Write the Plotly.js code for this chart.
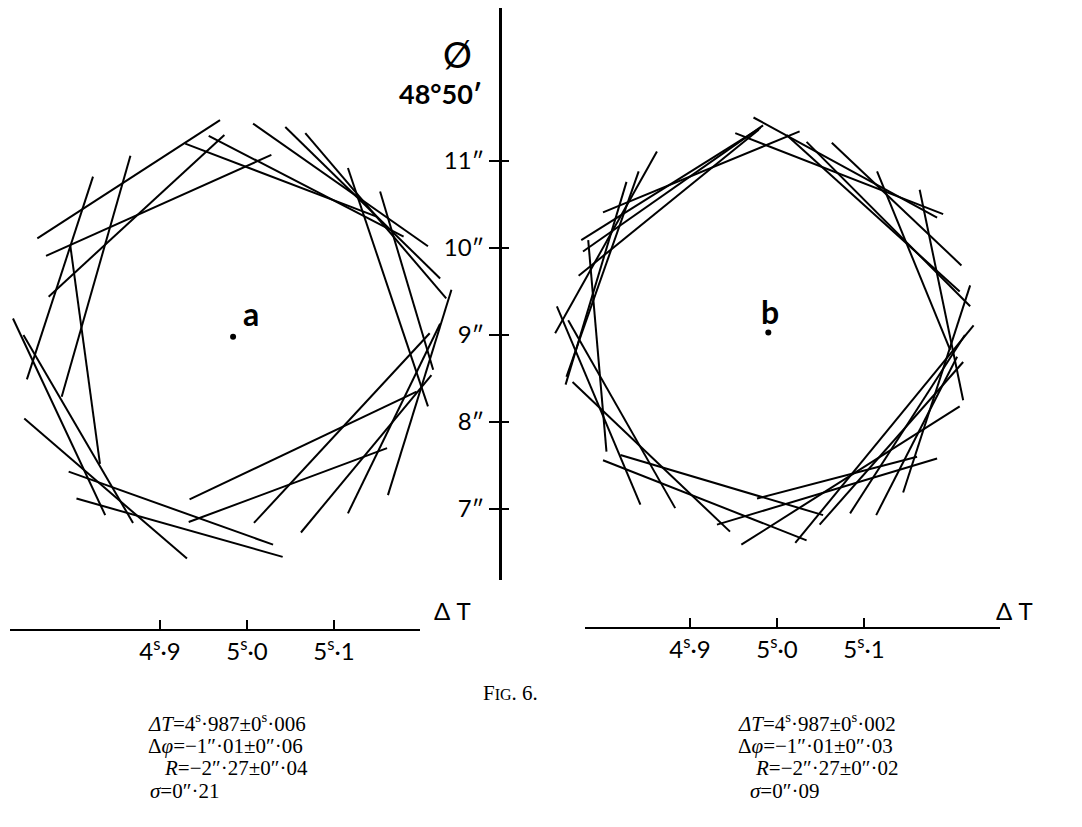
<!DOCTYPE html>
<html><head><meta charset="utf-8">
<script src="https://cdn.plot.ly/plotly-3.0.1.min.js"></script>
<style>body{margin:0;background:#fff}#c{width:1082px;height:827px}</style>
</head><body><div id="c"></div>
<script>
// Panel a: line segments (ΔT in seconds, φ in arcsec beyond 48°50′)
const aX0=[4.969,4.974,5.028,4.866,4.823,4.797,4.731,4.743,4.744,4.795,4.804,4.934,4.933,5.008,5.062,5.116,5.162,5.116,5.153,5.007,5.044,5.067,4.929,4.956];
const aY0=[11.47,11.30,11.07,11.06,10.82,10.02,9.19,9.00,8.04,7.43,7.12,7.11,6.85,6.84,6.73,6.95,7.16,10.92,10.65,11.43,11.39,11.32,11.20,11.29];
const aX1=[4.759,4.772,4.769,4.787,4.747,4.831,4.837,4.869,4.931,5.030,5.041,5.195,5.161,5.210,5.212,5.222,5.235,5.208,5.214,5.208,5.222,5.229,5.149,5.180];
const aY1=[10.11,9.44,9.91,8.29,8.49,7.52,6.93,6.84,6.43,6.59,6.45,8.35,7.70,9.02,8.54,9.13,9.52,8.18,8.60,10.02,9.65,9.42,10.36,10.13];
// Panel b
const bX0=[4.981,4.984,5.026,4.979,4.952,4.973,5.011,5.034,5.063,5.115,5.164,4.862,4.841,4.827,4.783,4.747,4.760,4.765,4.800,4.820,4.931,4.959,5.021,5.049,5.084,5.114,5.145,4.977];
const bY0=[11.38,11.41,11.34,11.36,11.32,11.50,11.30,11.22,11.21,10.88,10.67,11.11,10.88,10.76,10.09,9.33,9.17,8.46,7.56,7.62,6.82,6.59,6.61,6.82,6.95,6.93,7.19,7.12];
const bX1=[4.775,4.777,4.800,4.772,5.191,5.184,5.210,5.222,5.212,5.199,5.214,4.745,4.758,4.757,4.804,4.843,4.883,4.946,5.034,5.053,5.184,5.210,5.226,5.214,5.216,5.207,5.222,5.161];
const bY1=[10.09,9.96,10.41,9.68,10.39,10.35,9.50,9.33,9.80,8.83,8.25,9.02,8.52,8.43,7.66,7.05,7.01,6.74,6.64,6.93,7.58,8.18,9.11,8.69,9.00,8.75,9.57,7.60];
// centre points
const centreA=[4.984,8.98];
const centreB=[4.990,9.03];
// axis ticks
const xTickVals=[4.9,5.0,5.1];
const xTickText=['4<sup>s</sup>·9','5<sup>s</sup>·0','5<sup>s</sup>·1'];
const yTickVals=[7,8,9,10,11];
const yTickText=['7″','8″','9″','10″','11″'];
// result texts
const textA=['<i>ΔT</i>=4<sup>s</sup>·987±0<sup>s</sup>·006','Δ<i>φ</i>=−1″·01±0″·06','<i>R</i>=−2″·27±0″·04','<i>σ</i>=0″·21'];
const textB=['<i>ΔT</i>=4<sup>s</sup>·987±0<sup>s</sup>·002','Δ<i>φ</i>=−1″·01±0″·03','<i>R</i>=−2″·27±0″·02','<i>σ</i>=0″·09'];

function segs(x0,y0,x1,y1){const X=[],Y=[];for(let i=0;i<x0.length;i++){X.push(x0[i],x1[i],null);Y.push(y0[i],y1[i],null);}return {X,Y};}
const sa=segs(aX0,aY0,aX1,aY1), sb=segs(bX0,bY0,bX1,bY1);
const W=1082,H=827;
const px=v=>v/W, py=v=>1-v/H;
const ln={color:'#000',width:2};
const traces=[
 {x:sa.X,y:sa.Y,xaxis:'x',yaxis:'y',mode:'lines',line:ln,hoverinfo:'skip'},
 {x:sb.X,y:sb.Y,xaxis:'x2',yaxis:'y',mode:'lines',line:ln,hoverinfo:'skip'},
 {x:[centreA[0]],y:[centreA[1]],xaxis:'x',yaxis:'y',mode:'markers',marker:{color:'#000',size:6}},
 {x:[centreB[0]],y:[centreB[1]],xaxis:'x2',yaxis:'y',mode:'markers',marker:{color:'#000',size:6}},
 {x:[],y:[],xaxis:'x3',yaxis:'y',mode:'lines'},
 {x:[],y:[],xaxis:'x4',yaxis:'y',mode:'lines'}
];
const yr=[9+(335-580)/87, 9+(335-8)/87];
const tickFont={family:'Lato, DejaVu Sans, sans-serif',size:24,color:'#000'};
const hid={visible:false,showgrid:false,zeroline:false};
const layout={
 width:W,height:H,margin:{l:0,r:0,t:0,b:0},showlegend:false,
 paper_bgcolor:'#fff',plot_bgcolor:'rgba(0,0,0,0)',
 xaxis:Object.assign({domain:[0,px(480)],range:[5+(0-247)/870,5+(480-247)/870],anchor:'y'},hid),
 xaxis2:Object.assign({domain:[px(545),px(1000)],range:[5+(545-777)/870,5+(1000-777)/870],anchor:'y'},hid),
 xaxis3:{domain:[px(10),px(420)],range:[5+(10-247)/870,5+(420-247)/870],anchor:'free',position:py(630),
   showline:true,linecolor:'#000',linewidth:2,showgrid:false,zeroline:false,ticks:'inside',ticklen:9,tickwidth:1.5,tickcolor:'#000',
   tickmode:'array',tickvals:xTickVals,ticktext:xTickText,tickfont:tickFont},
 xaxis4:{domain:[px(585),px(1000)],range:[5+(585-777)/870,5+(1000-777)/870],anchor:'free',position:py(628),
   showline:true,linecolor:'#000',linewidth:2,showgrid:false,zeroline:false,ticks:'inside',ticklen:9,tickwidth:1.5,tickcolor:'#000',
   tickmode:'array',tickvals:xTickVals,ticktext:xTickText,tickfont:tickFont},
 yaxis:{domain:[py(580),py(8)],range:yr,anchor:'free',position:px(500),showline:true,linecolor:'#000',linewidth:2.5,
   showgrid:false,zeroline:false,ticks:'outside',ticklen:10,tickwidth:2,tickcolor:'#000',
   tickmode:'array',tickvals:yTickVals,ticktext:yTickText,tickfont:tickFont},
 shapes:yTickVals.map(v=>({type:'line',xref:'paper',yref:'y',x0:px(500),x1:px(509),y0:v,y1:v,line:{color:'#000',width:2}})),
 annotations:[]
};
const A=layout.annotations;
const sans='Lato, DejaVu Sans, sans-serif';
const add=(text,x,y,size,opts)=>A.push(Object.assign({text,x:px(x),y:py(y),xref:'paper',yref:'paper',showarrow:false,
  font:{family:sans,size,color:'#000'}},opts||{}));
add('Ø',457,30,36);
add('48°50′',440,75,27,{font:{family:sans,size:27,color:'#000',weight:'bold'}});
add('a',241,313,32,{font:{family:sans,size:32,color:'#000',weight:'bold'}});
add('b',781,311,32,{font:{family:sans,size:32,color:'#000',weight:'bold'}});
add('Δ T',452,627,24);
add('Δ T',1035,627,24);
const serif={family:'Liberation Serif, DejaVu Serif, serif',size:21,color:'#000'};
add('F<span style="font-size:16px">IG</span>. 6.',510,707,21,{font:{family:'Liberation Serif, serif',size:21,color:'#000'}});
const leftX=[146,146,162,148], rightX=[736,736,753,748], rowsY=[738,760,782,805];
textA.forEach((t,i)=>add(t,leftX[i],rowsY[i],21,{xanchor:'left',font:serif}));
textB.forEach((t,i)=>add(t,rightX[i],rowsY[i],21,{xanchor:'left',font:serif}));
Plotly.newPlot('c',traces,layout,{staticPlot:true});
</script></body></html>
